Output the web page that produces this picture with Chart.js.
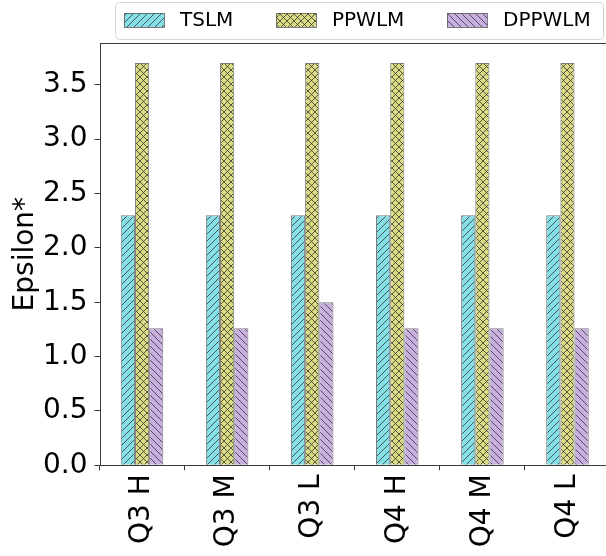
<!DOCTYPE html>
<html>
<head>
<meta charset="utf-8">
<script src="https://cdn.jsdelivr.net/npm/chart.js@4/dist/chart.umd.min.js"></script>
<style>
  html, body { margin: 0; padding: 0; background: #fff; overflow: hidden; width: 606px; height: 556px; }
  canvas { display: block; }
</style>
</head>
<body>
<canvas id="c" width="612" height="556"></canvas>
<script>
// Quarter / level groups on the x axis
const categories = ['Q3 H', 'Q3 M', 'Q3 L', 'Q4 H', 'Q4 M', 'Q4 L'];

// Epsilon* per method
const tslmValues   = [2.3, 2.3, 2.3, 2.3, 2.3, 2.3];
const ppwlmValues  = [3.7, 3.7, 3.7, 3.7, 3.7, 3.7];
const dppwlmValues = [1.26, 1.26, 1.5, 1.26, 1.26, 1.26];

const seriesNames = ['TSLM', 'PPWLM', 'DPPWLM'];
const yTickValues = [0, 0.5, 1.0, 1.5, 2.0, 2.5, 3.0, 3.5];

const FONT = 'DejaVu Sans';

// Hatched fills: '/' forward, '\' backward, 'x' cross
function makeHatch(base, kind) {
  const s = 7;
  const c = document.createElement('canvas');
  c.width = s; c.height = s;
  const g = c.getContext('2d');
  g.fillStyle = base;
  g.fillRect(0, 0, s, s);
  g.strokeStyle = 'rgba(45,45,45,0.75)';
  g.lineWidth = 1;
  g.beginPath();
  for (let k = -1; k <= 1; k++) {
    if (kind === '/' || kind === 'x') {
      g.moveTo(k * s, s); g.lineTo(k * s + s, 0);
    }
    if (kind === '\\' || kind === 'x') {
      g.moveTo(k * s, 0); g.lineTo(k * s + s, s);
    }
  }
  g.stroke();
  return g.createPattern(c, 'repeat');
}

const ctx = document.getElementById('c').getContext('2d');
const fills = [
  makeHatch('#86dfe6', '/'),
  makeHatch('#dbda84', 'x'),
  makeHatch('#c8afdf', '\\')
];
const edge = 'rgba(90,90,90,0.8)';

// Frame on all four sides of the plot area
const framePlugin = {
  id: 'frame',
  afterDatasetsDraw(chart) {
    const a = chart.chartArea;
    const g = chart.ctx;
    g.save();
    g.strokeStyle = '#3a3a3a';
    g.lineWidth = 1;
    g.strokeRect(Math.round(a.left) + 0.5, Math.round(a.top) + 0.5,
                 Math.round(a.right - a.left), Math.round(a.bottom - a.top));
    g.restore();
  }
};

// Legend row across the top
const legendPlugin = {
  id: 'topLegend',
  afterDraw(chart) {
    const g = chart.ctx;
    g.save();
    const x0 = 115.5, y0 = 2.5, w = 488, h = 37, r = 4;
    g.beginPath();
    g.roundRect(x0, y0, w, h, r);
    g.fillStyle = 'rgba(255,255,255,0.85)';
    g.fill();
    g.strokeStyle = '#d6d6d6';
    g.lineWidth = 1;
    g.stroke();
    const patchX = [124, 276, 447];
    const cy = 20;
    g.font = '20px "' + FONT + '"';
    g.textBaseline = 'middle';
    g.textAlign = 'left';
    chart.data.datasets.forEach((ds, i) => {
      g.fillStyle = ds.backgroundColor;
      g.fillRect(patchX[i], cy - 7, 40, 14);
      g.strokeStyle = edge;
      g.strokeRect(patchX[i] + 0.5, cy - 7 + 0.5, 40, 14);
      g.fillStyle = '#000';
      g.fillText(ds.label, patchX[i] + 56, cy + 1);
    });
    g.restore();
  }
};

new Chart(ctx, {
  type: 'bar',
  data: {
    labels: categories,
    datasets: [
      { label: seriesNames[0], data: tslmValues,   backgroundColor: fills[0] },
      { label: seriesNames[1], data: ppwlmValues,  backgroundColor: fills[1] },
      { label: seriesNames[2], data: dppwlmValues, backgroundColor: fills[2] }
    ].map(d => Object.assign(d, {
      borderColor: edge, borderWidth: 1,
      categoryPercentage: 0.5, barPercentage: 1.0
    }))
  },
  options: {
    responsive: false,
    animation: false,
    devicePixelRatio: 1,
    layout: { padding: { top: 43, right: 2, left: 0, bottom: 0 } },
    plugins: {
      legend: { display: false },
      tooltip: { enabled: false }
    },
    scales: {
      x: {
        grid: { display: true, drawOnChartArea: false, tickLength: 5, color: '#3a3a3a' },
        border: { display: false },
        ticks: {
          color: '#000', font: { family: FONT, size: 28 },
          minRotation: 90, maxRotation: 90, padding: 4, autoSkip: false
        },
        afterFit(scale) { scale.height = 90.7; }
      },
      y: {
        min: 0,
        max: 3.885,
        grid: { display: true, drawOnChartArea: false, tickLength: 5, color: '#3a3a3a' },
        border: { display: false },
        afterBuildTicks(scale) { scale.ticks = yTickValues.map(v => ({ value: v })); },
        ticks: {
          color: '#000', font: { family: FONT, size: 28 }, padding: 7,
          callback: v => Number(v).toFixed(1)
        },
        title: {
          display: true, text: 'Epsilon*', color: '#000',
          font: { family: FONT, size: 28 }, padding: { top: 9, bottom: 0 }
        },
        afterFit(scale) { scale.width = 99.5; }
      }
    }
  },
  plugins: [framePlugin, legendPlugin]
});
</script>
</body>
</html>
